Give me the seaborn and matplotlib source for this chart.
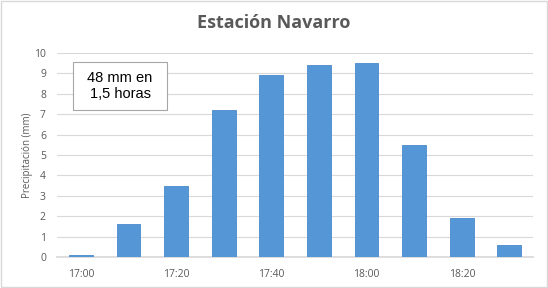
import matplotlib
matplotlib.use("Agg")
import matplotlib.pyplot as plt
import seaborn as sns
import pandas as pd

times = ["17:00", "17:10", "17:20", "17:30", "17:40", "17:50",
         "18:00", "18:10", "18:20", "18:30"]
precip = [0.1, 1.6, 3.5, 7.2, 8.9, 9.4, 9.5, 5.5, 1.9, 0.6]
title = "Estación Navarro"
ylabel = "Precipitación (mm)"
note = "48 mm en\n1,5 horas"

df = pd.DataFrame({"hora": times, "mm": precip})

sns.set_theme(style="white")
plt.rcParams["font.family"] = ["Open Sans", "DejaVu Sans"]

fig = plt.figure(figsize=(5.48, 2.88), dpi=100)
ax = fig.add_axes([0.104, 0.108, 0.869, 0.708])
sns.barplot(data=df, x="hora", y="mm", order=times, color="#5597D6",
            width=0.5, saturation=1, ax=ax, zorder=3)
for p in ax.patches:
    p.set_edgecolor("#4A8ACB")
    p.set_linewidth(0.6)

ax.set_ylim(0, 10)
ax.set_yticks(range(0, 11))
ax.set_xlim(-0.5, len(times) - 0.5)
ax.yaxis.grid(True, color="#D9D9D9", linewidth=0.8, zorder=0)
ax.set_axisbelow(True)
for s in ["top", "right", "left"]:
    ax.spines[s].set_visible(False)
ax.spines["bottom"].set_color("#D9D9D9")
ax.set_xticks(range(len(times)))
ax.set_xticklabels([t if i % 2 == 0 else "" for i, t in enumerate(times)])
ax.tick_params(axis="both", length=0, labelsize=7.5, colors="#595959")
ax.tick_params(axis="x", pad=9)
ax.tick_params(axis="y", pad=8)
ax.set_xlabel("")
ax.set_ylabel(ylabel, fontsize=7, color="#595959", labelpad=1)
fig.text(0.5, 0.92, title, ha="center", va="center", fontsize=13,
         fontweight="bold", color="#595959")

box = plt.Rectangle((0.034, 0.72), 0.197, 0.236, transform=ax.transAxes,
                    facecolor="white", edgecolor="#A6A6A6", linewidth=0.8,
                    zorder=5)
ax.add_patch(box)
ax.text(0.1325, 0.838, note, transform=ax.transAxes, ha="center", va="center",
        fontsize=10.5, color="#000000", family=["Liberation Sans", "DejaVu Sans"],
        linespacing=1.15, zorder=6)

fig.patches.append(plt.Rectangle((0.002, 0.003), 0.996, 0.994,
                                 transform=fig.transFigure, fill=False,
                                 edgecolor="#D9D9D9", linewidth=1))
fig.savefig("out.png", dpi=100)
